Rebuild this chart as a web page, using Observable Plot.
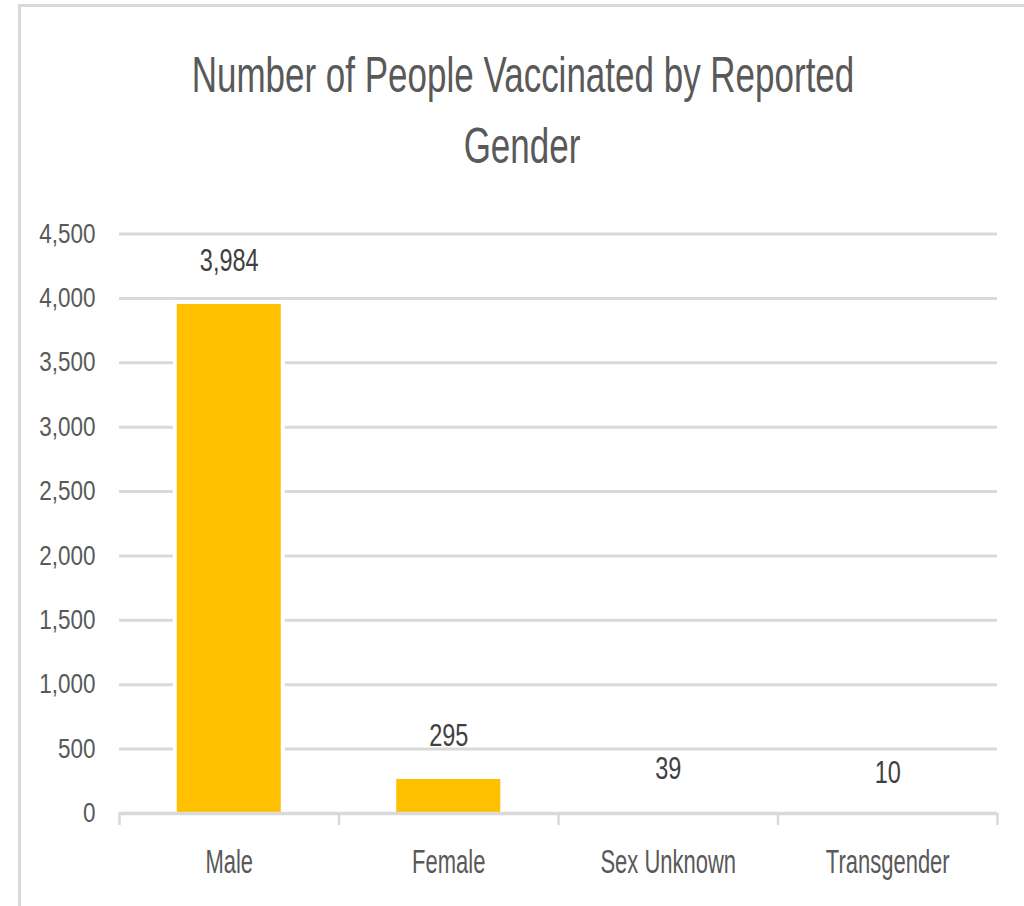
<!DOCTYPE html>
<html>
<head>
<meta charset="utf-8">
<script src="https://cdn.jsdelivr.net/npm/d3@7"></script>
<script src="https://cdn.jsdelivr.net/npm/@observablehq/plot@0.6"></script>
<style>
  html, body { margin: 0; padding: 0; background: #ffffff; }
  #page { position: relative; width: 1024px; height: 906px; overflow: hidden; background: #ffffff; }
  #frame { position: absolute; left: 18px; top: 4px; width: 1100px; height: 1000px;
           border-left: 3px solid #d9d9d9; border-top: 3px solid #d9d9d9; }
  #title { position: absolute; left: 0; top: 0; }
  #chart { position: absolute; left: 0; top: 200px; }
</style>
</head>
<body>
<div id="page">
  <div id="frame"></div>
  <svg id="title" width="1024" height="200" font-family="Liberation Sans, Arial, sans-serif" font-size="35" fill="#595959" text-anchor="middle">
    <text transform="translate(523,92) scale(1,1.437)">Number of People Vaccinated by Reported</text>
    <text transform="translate(522,163) scale(1,1.437)">Gender</text>
  </svg>
  <div id="chart"></div>
</div>
<script>
const categories = ["Male", "Female", "Sex Unknown", "Transgender"];
const values = [3984, 295, 39, 10];
const yTicks = [0, 500, 1000, 1500, 2000, 2500, 3000, 3500, 4000, 4500];

const data = categories.map((c, i) => ({category: c, value: values[i], start: i, end: i + 1, pos: i + 0.5}));
const boundaries = d3.range(categories.length + 1);
const centers = categories.map((c, i) => i + 0.5);
const fmt = d3.format(",");

const Y_FONT = 22.5, X_FONT = 22, V_FONT = 23.5;

const svg = Plot.plot({
  width: 1024,
  height: 706,
  marginTop: 33.5,
  marginBottom: 93,
  marginLeft: 119,
  marginRight: 27,
  style: {fontFamily: "Liberation Sans, Arial, sans-serif", background: "transparent", overflow: "visible"},
  x: {domain: [0, categories.length]},
  y: {domain: [0, 4500]},
  marks: [
    Plot.ruleY(yTicks, {stroke: "#d9d9d9", strokeWidth: 3}),
    Plot.rect(data, {x1: "start", x2: "end", y1: 0, y2: "value", insetLeft: 53.75, insetRight: 53.75, fill: "#ffffff"}),
    Plot.rect(data, {x1: "start", x2: "end", y1: 0, y2: "value", insetLeft: 57.75, insetRight: 57.75, insetTop: 4, fill: "#FFC000"}),
    Plot.ruleY([0], {stroke: "#d9d9d9", strokeWidth: 3.5}),
    Plot.axisX(boundaries, {tickSize: 12, tickFormat: () => "", stroke: "#d9d9d9", strokeWidth: 2.5, label: null}),
    Plot.axisX(centers, {tickSize: 0, tickPadding: 40, tickFormat: v => categories[Math.floor(v)], fontSize: X_FONT, fill: "#595959", label: null}),
    Plot.axisY(yTicks, {tickSize: 0, tickPadding: 24, tickFormat: fmt, fontSize: Y_FONT, fill: "#595959", label: null}),
    Plot.text(data, {x: "pos", y: "value", text: d => fmt(d.value), dy: -39, fontSize: V_FONT, fill: "#404040"})
  ]
});
document.getElementById("chart").append(svg);

// Stretch glyphs vertically (narrow, tall lettering as in the reference)
const stretchFor = fs => Math.abs(fs - Y_FONT) < 0.1 ? 1.2 : Math.abs(fs - X_FONT) < 0.1 ? 1.5 : Math.abs(fs - V_FONT) < 0.1 ? 1.3 : 1;
svg.querySelectorAll("text").forEach(t => {
  if (!t.textContent) return;
  const fs = parseFloat(getComputedStyle(t).fontSize);
  const k = stretchFor(fs);
  if (k === 1) return;
  const b = t.getBBox();
  const cy = b.y + b.height / 2;
  const prev = t.getAttribute("transform") || "";
  t.setAttribute("transform", `${prev} translate(0,${cy}) scale(1,${k}) translate(0,${-cy})`);
});
</script>
</body>
</html>
